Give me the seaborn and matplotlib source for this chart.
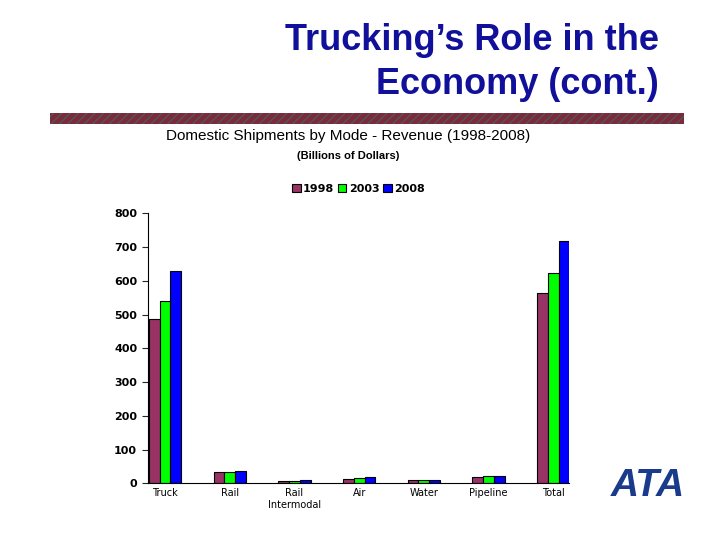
import matplotlib
matplotlib.use("Agg")
import matplotlib.pyplot as plt
import seaborn as sns
import pandas as pd

modes = ["Truck", "Rail", "Rail\nIntermodal", "Air", "Water", "Pipeline", "Total"]
years = ["1998", "2003", "2008"]
v1998 = [488, 33, 6, 12, 9, 18, 563]
v2003 = [539, 33, 6, 15, 9, 21, 624]
v2008 = [628, 36, 9, 18, 9, 21, 719]
colors = ["#993366", "#00FF00", "#0000FF"]

rows = []
for y, vals in zip(years, [v1998, v2003, v2008]):
    for m, v in zip(modes, vals):
        rows.append({"Mode": m, "Year": y, "Value": v})
df = pd.DataFrame(rows)

sns.set_style("white")
fig = plt.figure(figsize=(7.2, 5.4), dpi=100)
fig.patch.set_facecolor("white")

fig.text(0.915, 0.925, "Trucking\u2019s Role in the", color="#10109A", fontsize=26,
         fontweight="bold", ha="right", va="center", family="Liberation Sans")
fig.text(0.915, 0.843, "Economy (cont.)", color="#10109A", fontsize=26,
         fontweight="bold", ha="right", va="center", family="Liberation Sans")
fig.patches.append(matplotlib.patches.Rectangle((0.07, 0.77), 0.88, 0.02, transform=fig.transFigure,
                                                facecolor="#7a2a3a", hatch="////", edgecolor="#555555", lw=0))
fig.text(0.483, 0.748, "Domestic Shipments by Mode - Revenue (1998-2008)", ha="center", va="center",
         fontsize=11, color="black", family="Liberation Sans")
fig.text(0.483, 0.712, "(Billions of Dollars)", ha="center", va="center", fontsize=8,
         fontweight="bold", color="black", family="Liberation Sans")

ax = fig.add_axes([0.205, 0.105, 0.585, 0.5])
sns.barplot(data=df, x="Mode", y="Value", hue="Year", palette=colors, ax=ax, saturation=1,
            edgecolor="black", linewidth=0.8, width=0.5, legend=True)
ax.set_ylim(0, 800)
ax.set_yticks(range(0, 801, 100))
ax.set_xlabel("")
ax.set_ylabel("")
for s in ["top", "right"]:
    ax.spines[s].set_visible(False)
ax.spines["left"].set_color("black")
ax.spines["bottom"].set_color("black")
ax.tick_params(axis="y", labelsize=8, length=4, left=True, labelcolor="black")
ax.tick_params(axis="x", labelsize=7, length=0, labelcolor="black")
for t in ax.get_yticklabels():
    t.set_fontweight("bold")
ax.set_xlim(-0.27, 6.24)
leg = ax.legend(loc="upper center", bbox_to_anchor=(0.5, 1.145), ncol=3, frameon=False,
                fontsize=8, handlelength=0.8, handletextpad=0.2, columnspacing=0.3)
for t in leg.get_texts():
    t.set_fontweight("bold")
    t.set_color("black")

fig.text(0.9, 0.1, "ATA", color="#1a3a8c", fontsize=28, fontweight="bold", ha="center",
         va="center", family="Liberation Sans", style="italic")

fig.savefig("out.png", dpi=100)
